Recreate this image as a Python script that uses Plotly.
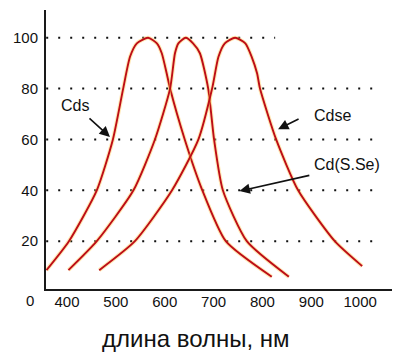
import plotly.graph_objects as go

# ---- data ----
cds_wl = [358, 404, 461, 494, 515, 529, 543, 566, 584, 594, 604, 611, 641, 677, 725, 819]
cds_val = [8.6, 20, 40, 60, 80, 92.5, 97.8, 100, 97.8, 93.9, 86, 80, 60, 40, 20, 6.0]

cdsse_wl = [403, 461, 536, 580, 611, 621, 628, 643, 658, 672, 689, 701, 719, 768, 854]
cdsse_val = [8.6, 20, 40, 60, 80, 93.9, 97.8, 100, 97.8, 93.9, 80, 60, 40, 20, 6.0]

cdse_wl = [466, 539, 615, 669, 697, 710, 723, 744, 765, 778, 789, 795, 828, 873, 948, 1004]
cdse_val = [8.6, 20, 40, 60, 80, 92.5, 97.8, 100, 97.8, 92.5, 86, 80, 60, 40, 20, 10.2]

x_ticks = [400, 500, 600, 700, 800, 900, 1000]
y_ticks = [20, 40, 60, 80, 100]
grid_levels = [20, 40, 60, 80, 100]
grid_ends = [1028, 1028, 1028, 1028, 826]

labels = ["Cds", "Cdse", "Cd(S.Se)"]
label_pos = [(416, 73.2), (944, 69.6), (973, 50.0)]
arrow_tips = [(488, 61.0), (832, 64.0), (753, 39.7)]
arrow_tails = [(443, 68.8), (877, 68.3), (899, 46.0)]

x_title = "длина волны, нм"

FONT = "Arial, Liberation Sans, sans-serif"
RED = "#bd0d16"
HALO = "rgba(255,205,90,0.45)"

fig = go.Figure()

# dotted guide lines
for lvl, end in zip(grid_levels, grid_ends):
    fig.add_shape(type="line", xref="x", yref="y", x0=357.5, x1=end, y0=lvl, y1=lvl,
                  line=dict(color="#111111", width=2, dash="2px,10px"), layer="below")

for wl, val in [(cds_wl, cds_val), (cdsse_wl, cdsse_val), (cdse_wl, cdse_val)]:
    fig.add_trace(go.Scatter(x=wl, y=val, mode="lines",
                             line=dict(color=HALO, width=4, shape="spline", smoothing=0.6),
                             hoverinfo="skip", showlegend=False))
    fig.add_trace(go.Scatter(x=wl, y=val, mode="lines",
                             line=dict(color=RED, width=1.9, shape="spline", smoothing=0.6),
                             showlegend=False))

annotations = []
for txt, (tx, ty) in zip(labels, label_pos):
    annotations.append(dict(x=tx, y=ty, xref="x", yref="y", text=txt, showarrow=False,
                            xanchor="center", yanchor="middle",
                            font=dict(family=FONT, size=16, color="#111111")))
for (hx, hy), (sx, sy) in zip(arrow_tips, arrow_tails):
    annotations.append(dict(x=hx, y=hy, xref="x", yref="y", ax=sx, ay=sy, axref="x", ayref="y",
                            text="", showarrow=True, arrowhead=2, arrowsize=1.3,
                            arrowwidth=1.6, arrowcolor="#111111", standoff=0, startstandoff=0))
annotations.append(dict(x=-0.046, y=-0.043, xref="paper", yref="paper", text="0",
                        showarrow=False, xanchor="center", yanchor="middle",
                        font=dict(family=FONT, size=15, color="#111111")))
annotations.append(dict(x=0.4335, y=-0.176, xref="paper", yref="paper", text=x_title,
                        showarrow=False, xanchor="center", yanchor="middle",
                        font=dict(family=FONT, size=24, color="#111111")))

fig.update_layout(
    width=400, height=358,
    margin=dict(l=46, r=8, t=10, b=69),
    paper_bgcolor="white", plot_bgcolor="white",
    showlegend=False,
    annotations=annotations,
    xaxis=dict(range=[357.1, 1065.1], tickvals=x_ticks, ticktext=[str(v) for v in x_ticks],
               showgrid=False, zeroline=False, showline=True, linecolor="#1a1a1a", linewidth=2,
               ticks="", tickfont=dict(family=FONT, size=15, color="#111111"),
               ticklabelstandoff=-2),
    yaxis=dict(range=[1.2, 110.9], tickvals=y_ticks, ticktext=[str(v) for v in y_ticks],
               showgrid=False, zeroline=False, showline=True, linecolor="#1a1a1a", linewidth=2,
               ticks="", tickfont=dict(family=FONT, size=15, color="#111111"),
               ticklabelstandoff=3),
)

fig.write_html("out.html", config={"displayModeBar": False},
               post_script="document.body.style.margin='0';")
